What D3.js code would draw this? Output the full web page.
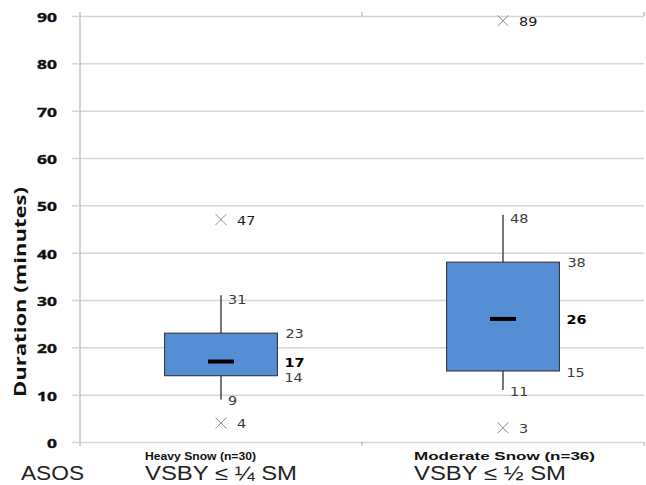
<!DOCTYPE html>
<html>
<head>
<meta charset="utf-8">
<script src="https://cdn.jsdelivr.net/npm/d3@7"></script>
<style>
  html, body { margin: 0; padding: 0; background: #fff; }
  svg { display: block; }
</style>
</head>
<body>
<svg id="chart" width="646" height="485"></svg>
<script>
// Snow event durations (minutes), box-and-whisker summary per category
const categories   = ["Heavy Snow (n=30)", "Moderate Snow (n=36)"];
const visibility   = ["VSBY \u2264 \u00BC SM", "VSBY \u2264 \u00BD SM"];
const whiskerLow   = [9, 11];
const quartile1    = [14, 15];
const medians      = [17, 26];
const quartile3    = [23, 38];
const whiskerHigh  = [31, 48];
const outlierLow   = [4, 3];
const outlierHigh  = [47, 89];
const yTicks       = [0, 10, 20, 30, 40, 50, 60, 70, 80, 90];
const yTitle       = "Duration (minutes)";
const sensorLabel  = "ASOS";

const rows = categories.map((c, i) => ({
  cat: c, vis: visibility[i],
  lo: whiskerLow[i], q1: quartile1[i], med: medians[i],
  q3: quartile3[i], hi: whiskerHigh[i],
  outs: [outlierLow[i], outlierHigh[i]]
}));

const svg = d3.select("#chart");
const plotLeft = 80, plotRight = 644, plotTop = 16, plotBottom = 442;

const y = d3.scaleLinear().domain([0, 90]).range([plotBottom, plotTop]);
const x = d3.scaleBand().domain(categories).range([plotLeft, plotRight]).padding(0);
const boxW = x.bandwidth() * 0.4;
const cx = d => x(d.cat) + x.bandwidth() / 2;

// horizontal gridlines
svg.append("g")
  .attr("transform", `translate(${plotLeft},0)`)
  .call(d3.axisLeft(y).tickValues(yTicks).tickSize(-(plotRight - plotLeft)).tickFormat(""))
  .call(g => g.select(".domain").remove())
  .call(g => g.selectAll("line").attr("stroke", "#d6d6d6").attr("stroke-width", 1.5));

// value axis with outward ticks and labels
const yAxis = svg.append("g")
  .attr("transform", `translate(${plotLeft},0)`)
  .call(d3.axisLeft(y).tickValues(yTicks).tickSize(8).tickPadding(0));
yAxis.select(".domain").attr("stroke", "#a6a6a6").attr("d", `M0,${plotTop - 4}V${plotBottom + 4}`);
yAxis.selectAll("line").attr("stroke", "#d6d6d6").attr("stroke-width", 1.5);
yAxis.selectAll("text")
  .attr("x", null).attr("dy", null)
  .attr("transform", "translate(-23,5.5) scale(1.45,1)")
  .attr("text-anchor", "end")
  .style("font-family", "'Open Sans', sans-serif")
  .style("font-weight", "700")
  .style("font-size", "12px")
  .attr("fill", "#111")
  .attr("stroke", "#111").attr("stroke-width", 0.35);

// category boundary ticks, top and bottom
const bounds = categories.map(c => x(c) + x.bandwidth());
svg.append("g").selectAll("line").data(bounds).join("line")
  .attr("x1", d => d).attr("x2", d => d)
  .attr("y1", plotBottom).attr("y2", plotBottom + 4)
  .attr("stroke", "#a6a6a6");
svg.append("g").selectAll("line").data(bounds).join("line")
  .attr("x1", d => d).attr("x2", d => d)
  .attr("y1", plotTop - 4).attr("y2", plotTop)
  .attr("stroke", "#a6a6a6");

// y title
svg.append("text")
  .attr("transform", "translate(26,397) rotate(-90)")
  .attr("textLength", 210).attr("lengthAdjust", "spacingAndGlyphs")
  .style("font-family", "'Open Sans', sans-serif")
  .style("font-weight", "700").style("font-size", "16px")
  .attr("fill", "#111")
  .text(yTitle);

const boxes = svg.append("g").selectAll("g").data(rows).join("g");

// whiskers
boxes.append("line")
  .attr("x1", cx).attr("x2", cx)
  .attr("y1", d => y(d.hi)).attr("y2", d => y(d.q3))
  .attr("stroke", "#4a4a4a").attr("stroke-width", 1.5);
boxes.append("line")
  .attr("x1", cx).attr("x2", cx)
  .attr("y1", d => y(d.q1)).attr("y2", d => y(d.lo))
  .attr("stroke", "#4a4a4a").attr("stroke-width", 1.5);

// interquartile box
boxes.append("rect")
  .attr("x", d => cx(d) - boxW / 2).attr("width", boxW)
  .attr("y", d => y(d.q3)).attr("height", d => y(d.q1) - y(d.q3))
  .attr("fill", "#558ed5").attr("stroke", "#2a2a2a").attr("stroke-width", 1);

// median bar
boxes.append("rect")
  .attr("x", d => cx(d) - 13).attr("width", 26)
  .attr("y", d => y(d.med) - 2).attr("height", 4)
  .attr("fill", "#000");

// outliers
boxes.selectAll("path").data(d => d.outs.map(v => ({ v, c: cx(d) }))).join("path")
  .attr("transform", o => `translate(${o.c},${y(o.v)})`)
  .attr("d", d3.symbol(d3.symbolTimes, 80))
  .attr("fill", "none").attr("stroke", "#8c8c8c").attr("stroke-width", 1);

// value labels
function label(g, px, py, txt, bold, color) {
  g.append("text")
    .attr("transform", `translate(${px},${py}) scale(1.2,1)`)
    .attr("dy", "0.36em")
    .attr("fill", color || (bold ? "#000" : "#3a3a3a"))
    .style("font-weight", bold ? "700" : "400")
    .style("font-family", "'DejaVu Sans', Verdana, sans-serif")
    .style("font-size", "12px")
    .text(txt);
}
boxes.each(function(d) {
  const g = d3.select(this);
  const c = cx(d), right = c + boxW / 2;
  label(g, c + 7, y(d.hi) + 4, d.hi, false);
  label(g, c + 7, y(d.lo) + 1.5, d.lo, false);
  label(g, right + 8, y(d.q3) + 1, d.q3, false);
  label(g, right + 7, y(d.med) + 1, d.med, true);
  label(g, right + 7, y(d.q1) + 2, d.q1, false);
  d.outs.forEach((v, k) => label(g, c + 16, y(v) + 1, v, false, k === 1 ? "#1a1a1a" : "#3a3a3a"));
});

// two-line category captions under the axis
const captionLeft = [145, 414];
const captionBoldLen = [111, 181];
rows.forEach((d, i) => {
  svg.append("text")
    .attr("x", captionLeft[i]).attr("y", 459.5)
    .attr("textLength", captionBoldLen[i]).attr("lengthAdjust", "spacingAndGlyphs")
    .style("font-family", "'Liberation Sans', Arial, sans-serif")
    .style("font-weight", "700").style("font-size", "11.5px")
    .attr("fill", "#111")
    .text(d.cat);
  svg.append("text")
    .attr("x", captionLeft[i]).attr("y", 480)
    .attr("textLength", 152).attr("lengthAdjust", "spacingAndGlyphs")
    .style("font-family", "'Liberation Sans', Arial, sans-serif")
    .style("font-size", "19.5px")
    .attr("fill", "#222")
    .text(d.vis);
});
svg.append("text")
  .attr("x", 21).attr("y", 480)
  .attr("textLength", 63).attr("lengthAdjust", "spacingAndGlyphs")
  .style("font-family", "'Liberation Sans', Arial, sans-serif")
  .style("font-size", "19.5px")
  .attr("fill", "#222")
  .text(sensorLabel);
</script>
</body>
</html>
